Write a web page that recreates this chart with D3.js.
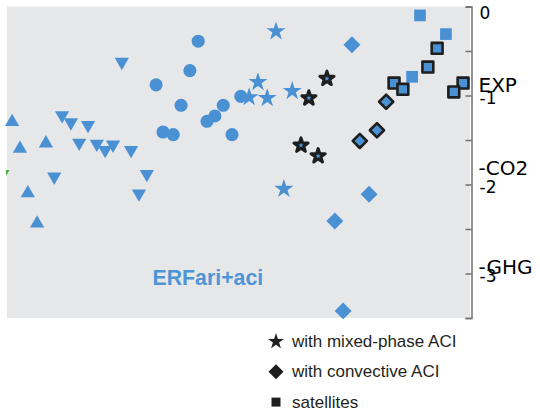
<!DOCTYPE html>
<html><head><meta charset="utf-8">
<script src="https://cdn.jsdelivr.net/npm/d3@7"></script>
<style>html,body{margin:0;padding:0;background:#fff;}svg{display:block;}</style>
</head><body>
<svg id="c" width="540" height="410"></svg>
<script>
// ---- data (x: model position index 0..100, y: W m^-2) ----
const triDown = [[24.8,-0.60],[11.9,-1.20],[13.8,-1.28],[17.5,-1.31],[15.6,-1.51],[19.4,-1.52],[21.2,-1.59],[22.9,-1.53],[26.8,-1.59],[10.2,-1.89],[30.2,-1.86],[28.5,-2.08]];
const triUp = [[1.1,-1.32],[2.8,-1.62],[8.4,-1.56],[4.5,-2.12],[6.5,-2.46]];
const circles = [[32.2,-0.88],[37.6,-1.11],[33.7,-1.41],[35.9,-1.44],[41.3,-0.39],[39.5,-0.72],[50.5,-1.01],[46.7,-1.11],[44.9,-1.23],[43.2,-1.29],[48.6,-1.44]];
const stars = [[58.1,-0.28],[54.2,-0.85],[52.3,-1.02],[56.2,-1.03],[61.6,-0.95],[59.8,-2.05]];
const starsMixed = [[69.1,-0.81],[65.2,-1.03],[63.5,-1.56],[67.2,-1.68]];
const diamonds = [[74.5,-0.43],[78.2,-2.11],[70.8,-2.41],[72.6,-3.42]];
const diamondsConv = [[76.2,-1.51],[79.9,-1.39],[81.9,-1.07]];
const squares = [[89.2,-0.10],[94.8,-0.31],[87.5,-0.79]];
const squaresSat = [[92.9,-0.47],[90.9,-0.68],[83.6,-0.86],[85.5,-0.93],[98.5,-0.86],[96.5,-0.96]];
const greenPts = [[-0.97,-1.86]];
const yTicks = [0,-0.5,-1,-1.5,-2,-2.5,-3,-3.5];
const refLabels = ["EXP","-CO2","-GHG"];
const refValues = [-0.88,-1.81,-2.92];
const legendLabels = ["with mixed-phase ACI","with convective ACI","satellites"];
const panelLabel = "ERFari+aci";

const blue = "#4a91d3", dark = "#1e1e1e";
const svg = d3.select("#c");
const xs = d3.scaleLinear().domain([0,100]).range([7,470]);
const ys = d3.scaleLinear().domain([0,-3.5]).range([6.5,318]);

svg.append("defs").append("clipPath").attr("id","clipL").append("rect")
  .attr("x",6).attr("y",0).attr("width",534).attr("height",410);

svg.append("rect").attr("x",xs(0)).attr("y",ys(0)).attr("width",xs(100)-xs(0)).attr("height",ys(-3.5)-ys(0)).attr("fill","#e6e7e9");

svg.append("text").attr("x",152.5).attr("y",285).attr("font-family","Liberation Sans, Arial, sans-serif")
  .attr("font-weight","bold").attr("font-size",21.3).attr("fill","#4f95d6").text(panelLabel);

function draw(data, type, size, rot, fill, stroke, sw, dy, clip){
  const sym = d3.symbol().type(type).size(size);
  const grp = svg.append("g");
  if (clip) grp.attr("clip-path","url(#clipL)");
  grp.selectAll("path").data(data).join("path")
    .attr("d", sym)
    .attr("transform", d=>`translate(${xs(d[0])},${ys(d[1])+dy}) rotate(${rot})`)
    .attr("fill", fill).attr("stroke", stroke).attr("stroke-width", sw)
    .attr("stroke-linejoin","round");
}
draw(greenPts, d3.symbolTriangle, 85, 180, "#4caf3c", "none", 0, 2, true);
draw(circles, d3.symbolCircle, 135, 0, blue, "none", 0, 0);
draw(triDown, d3.symbolTriangle, 88, 180, blue, "none", 0, 2);
draw(triUp, d3.symbolTriangle, 88, 0, blue, "none", 0, -2);
draw(stars, d3.symbolStar, 112, 0, blue, "none", 0, 0);
draw(starsMixed, d3.symbolStar, 62, 0, blue, dark, 3, 0);
draw(diamonds, d3.symbolSquare, 144, 45, blue, "none", 0, 0);
draw(diamondsConv, d3.symbolSquare, 100, 45, blue, dark, 2.6, 0);
draw(squares, d3.symbolSquare, 137, 0, blue, "none", 0, 0);
draw(squaresSat, d3.symbolSquare, 118, 0, blue, dark, 2.6, 0);

// right axis
const ax = d3.axisRight(ys).tickValues(yTicks)
  .tickFormat(d => Number.isInteger(d) ? String(d) : "")
  .tickSizeInner(-6).tickSizeOuter(-6).tickPadding(8);
const g = svg.append("g").attr("transform","translate(471.5,0)").call(ax);
g.select(".domain").attr("stroke","#707070").attr("stroke-width",1.5);
g.selectAll(".tick line").attr("stroke","#707070").attr("stroke-width",1.5);
g.selectAll(".tick text").attr("font-family","DejaVu Sans, sans-serif").attr("font-size",17)
  .attr("fill","#000").attr("dy", d => d===0 ? "0.68em" : "0.45em");

// reference labels
svg.append("g").selectAll("text").data(refLabels).join("text")
  .attr("x",478.5).attr("y",(d,i)=>ys(refValues[i])).attr("dy","0.36em")
  .attr("font-family","DejaVu Sans, sans-serif").attr("font-size",20).attr("fill","#000").text(d=>d);

// legend
const legTypes = [d3.symbolStar, d3.symbolSquare, d3.symbolSquare];
const legSizes = [80, 112, 81];
const legRot = [0,45,0];
const lg = svg.append("g");
legendLabels.forEach((t,i)=>{
  const cy = 341.5 + i*30.3;
  lg.append("path").attr("d", d3.symbol().type(legTypes[i]).size(legSizes[i]))
    .attr("transform",`translate(276,${cy}) rotate(${legRot[i]})`).attr("fill",dark);
  lg.append("text").attr("x",292).attr("y",cy+5.5).attr("font-family","Liberation Sans, Arial, sans-serif")
    .attr("font-size",17).attr("fill","#231f20").text(t);
});
</script>
</body></html>
